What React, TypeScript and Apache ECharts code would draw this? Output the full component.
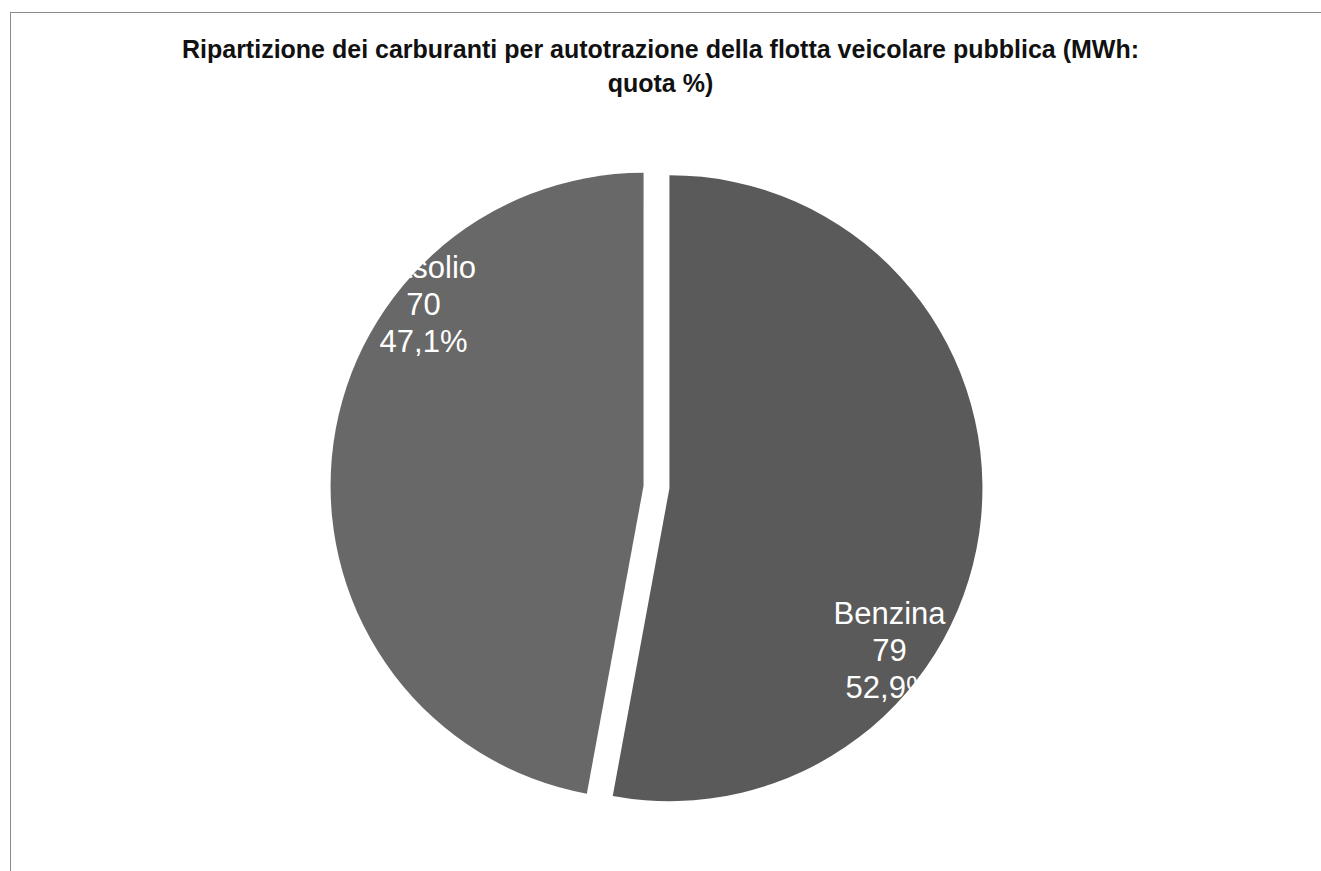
import React, { useEffect, useRef } from "react";
import * as echarts from "echarts";

const categories = ["Benzina", "Gasolio"];
const mwhValues = [79, 70];
const sharePercent = [52.9, 47.1];
const titleLines = [
  "Ripartizione dei carburanti per autotrazione della flotta veicolare pubblica (MWh:",
  "quota %)",
];

const W = 1321;
const H = 871;
const CX = 656.5;
const CY = 487;
const R = 313;
const labelOffsets = [
  [233, 163],
  [-233, -183],
];
const FONT = "Liberation Sans, Arial, sans-serif";

export default function App() {
  const ref = useRef<HTMLDivElement>(null);
  useEffect(() => {
    document.body.style.margin = "0";
    if (!ref.current) return;
    const chart = echarts.init(ref.current, undefined, { renderer: "svg" });
    const data = categories.map((name, i) => ({
      name,
      value: sharePercent[i],
      selected: true,
      itemStyle: { color: i === 0 ? "#5a5a5a" : "#686868" },
    }));
    const labelTexts = categories.map((name, i) => ({
      type: "text",
      x: CX + labelOffsets[i][0],
      y: CY + labelOffsets[i][1],
      z: 100,
      style: {
        text: `${name}\n${mwhValues[i]}\n${sharePercent[i].toFixed(1).replace(".", ",")}%`,
        fill: "#ffffff",
        font: `31px ${FONT}`,
        lineHeight: 37,
        align: "center",
        verticalAlign: "middle",
      },
    }));
    chart.setOption({
      animation: false,
      backgroundColor: "#ffffff",
      title: titleLines.map((t, i) => ({
        text: t,
        left: "center",
        top: 31 + i * 34,
        textStyle: {
          fontFamily: FONT,
          fontSize: 25,
          fontWeight: "bold",
          color: "#111",
        },
      })),
      graphic: [
        {
          type: "line",
          shape: { x1: 10, y1: 12.5, x2: W, y2: 12.5 },
          style: { stroke: "#8a8a8a", lineWidth: 1 },
        },
        {
          type: "line",
          shape: { x1: 10.5, y1: 12, x2: 10.5, y2: H },
          style: { stroke: "#8a8a8a", lineWidth: 1 },
        },
        ...labelTexts,
      ],
      series: [
        {
          type: "pie",
          center: [CX, CY],
          radius: [0, R],
          startAngle: 90,
          clockwise: true,
          selectedMode: "multiple",
          selectedOffset: 13,
          silent: true,
          emphasis: { disabled: true },
          itemStyle: { borderWidth: 0 },
          labelLine: { show: false },
          label: { show: false },
          data,
        },
      ],
    });
    return () => chart.dispose();
  }, []);
  return <div ref={ref} style={{ width: W, height: H }} />;
}
